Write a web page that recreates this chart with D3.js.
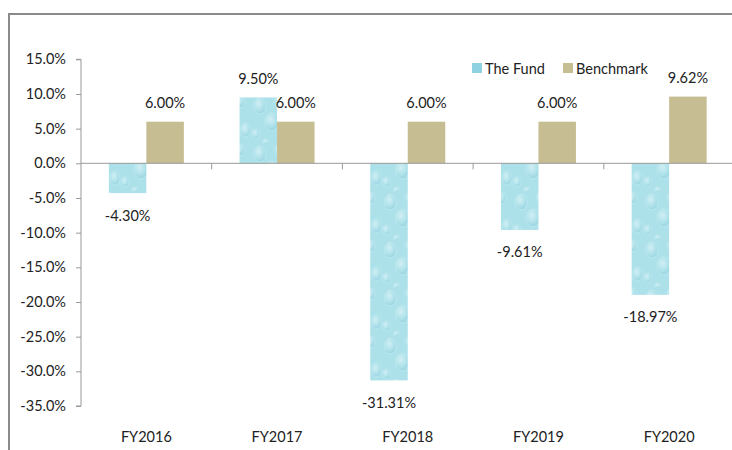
<!DOCTYPE html>
<html>
<head>
<meta charset="utf-8">
<script src="https://cdnjs.cloudflare.com/ajax/libs/d3/7.8.5/d3.min.js"></script>
<style>
  html, body { margin: 0; padding: 0; background: #fff; }
  svg { display: block; }
  text { font-family: Lato, "Open Sans", sans-serif; fill: #222; }
</style>
</head>
<body>
<svg id="chart" width="732" height="450"></svg>
<script>
const categories = ["FY2016", "FY2017", "FY2018", "FY2019", "FY2020"];
const seriesNames = ["The Fund", "Benchmark"];
const fundValues = [-4.30, 9.50, -31.31, -9.61, -18.97];
const benchmarkValues = [6.00, 6.00, 6.00, 6.00, 9.62];
const yTicks = [15, 10, 5, 0, -5, -10, -15, -20, -25, -30, -35];

const FONT = "Lato, sans-serif";
const FS = "14.5px";
const loc = d3.formatLocale({ decimal: ".", thousands: ",", grouping: [3], currency: ["", ""], minus: "-" });
const fmt1 = loc.format(".1f"), fmt2 = loc.format(".2f");

const svg = d3.select("#chart");
const W = 732, H = 450;

// frame
svg.append("path")
  .attr("d", `M9,${H} L9,14 L${W},14`)
  .attr("fill", "none").attr("stroke", "#8a8a8a").attr("stroke-width", 2);

// pattern for fund bars (water texture)
const defs = svg.append("defs");
const pat = defs.append("pattern")
  .attr("id", "water").attr("patternUnits", "userSpaceOnUse")
  .attr("width", 40).attr("height", 48);
pat.append("rect").attr("width", 40).attr("height", 48).attr("fill", "#ade1ea");
const rg = defs.append("radialGradient").attr("id", "drop").attr("cx", "40%").attr("cy", "35%").attr("r", "60%");
rg.append("stop").attr("offset", "0%").attr("stop-color", "#d9f3f7");
rg.append("stop").attr("offset", "60%").attr("stop-color", "#b5e4ec");
rg.append("stop").attr("offset", "100%").attr("stop-color", "#98d5e1");
const drops = [[8, 10, 6, 8], [28, 6, 5, 6], [20, 26, 7, 9], [4, 38, 4, 5], [34, 34, 5, 7], [14, 46, 3, 3]];
drops.forEach(d => {
  pat.append("ellipse").attr("cx", d[0]).attr("cy", d[1]).attr("rx", d[2]).attr("ry", d[3])
    .attr("fill", "url(#drop)").attr("stroke", "#c4ecf2").attr("stroke-width", 0.8).attr("opacity", 0.8);
});

const plotLeft = 81, bandW = 130.7;
const x0 = d3.scaleBand().domain(categories).range([plotLeft, plotLeft + bandW * categories.length]);
const barW = 37.5;
const x1 = d3.scaleBand().domain(seriesNames)
  .range([(bandW - 2 * barW) / 2, (bandW + 2 * barW) / 2]);
const y = d3.scaleLinear().domain([-35, 15]).range([406, 59.3]);

// y axis
const yAxis = d3.axisLeft(y).tickValues(yTicks).tickSize(5).tickPadding(10)
  .tickFormat(d => fmt1(d) + "%");
const gy = svg.append("g").attr("transform", `translate(${plotLeft},0)`).call(yAxis);
gy.select(".domain").attr("stroke", "#999").attr("d", `M-5,${y(15)}H0V${y(-35)}H-5`);
gy.selectAll(".tick line").attr("stroke", "#999");
gy.selectAll(".tick text").style("font-size", FS).style("font-family", FONT).attr("fill", "#222");

// bars
const data = categories.map((c, i) => ({ cat: c, vals: [
  { key: seriesNames[0], v: fundValues[i] },
  { key: seriesNames[1], v: benchmarkValues[i] }
]}));

const groups = svg.append("g").selectAll("g").data(data).join("g")
  .attr("transform", d => `translate(${x0(d.cat)},0)`);
groups.selectAll("rect").data(d => d.vals).join("rect")
  .attr("x", d => x1(d.key))
  .attr("width", x1.bandwidth())
  .attr("y", d => y(Math.max(0, d.v)))
  .attr("height", d => Math.abs(y(d.v) - y(0)))
  .attr("fill", d => d.key === seriesNames[0] ? "url(#water)" : "#c6bd92");

groups.selectAll("text.lbl").data(d => d.vals).join("text").attr("class", "lbl")
  .attr("x", d => x1(d.key) + x1.bandwidth() / 2)
  .attr("y", d => d.v >= 0 ? y(d.v) - 13.5 : y(d.v) + 27.5)
  .attr("text-anchor", "middle").style("font-size", FS).style("font-family", FONT)
  .text(d => fmt2(d.v) + "%");

// x axis
const xAxis = d3.axisBottom(x0).tickSize(0).tickFormat(d => d);
const gx = svg.append("g").attr("transform", `translate(0,${y(0)})`).call(xAxis);
gx.select(".domain").attr("stroke", "#999").attr("d", `M${plotLeft},0H${plotLeft + bandW * 5}`);
gx.selectAll(".tick text").attr("dy", null).attr("y", y(-35) - y(0) + 36).style("font-size", FS)
  .style("font-family", FONT).attr("fill", "#222");
// category separator ticks
gx.selectAll("line.sep").data(categories.slice(1)).join("line").attr("class", "sep")
  .attr("x1", d => x0(d)).attr("x2", d => x0(d)).attr("y1", 0).attr("y2", 6)
  .attr("stroke", "#999");

// legend
const legend = svg.append("g").attr("transform", "translate(472,68)");
const legendX = [0, 91];
seriesNames.forEach((name, i) => {
  const g = legend.append("g").attr("transform", `translate(${legendX[i]},0)`);
  g.append("rect").attr("x", 0).attr("y", -5).attr("width", 10).attr("height", 10)
    .attr("fill", i === 0 ? "#8fd3e2" : "#c6bd92");
  g.append("text").attr("x", 13).attr("y", 5.5).style("font-size", FS).style("font-family", FONT).text(name);
});
</script>
</body>
</html>
